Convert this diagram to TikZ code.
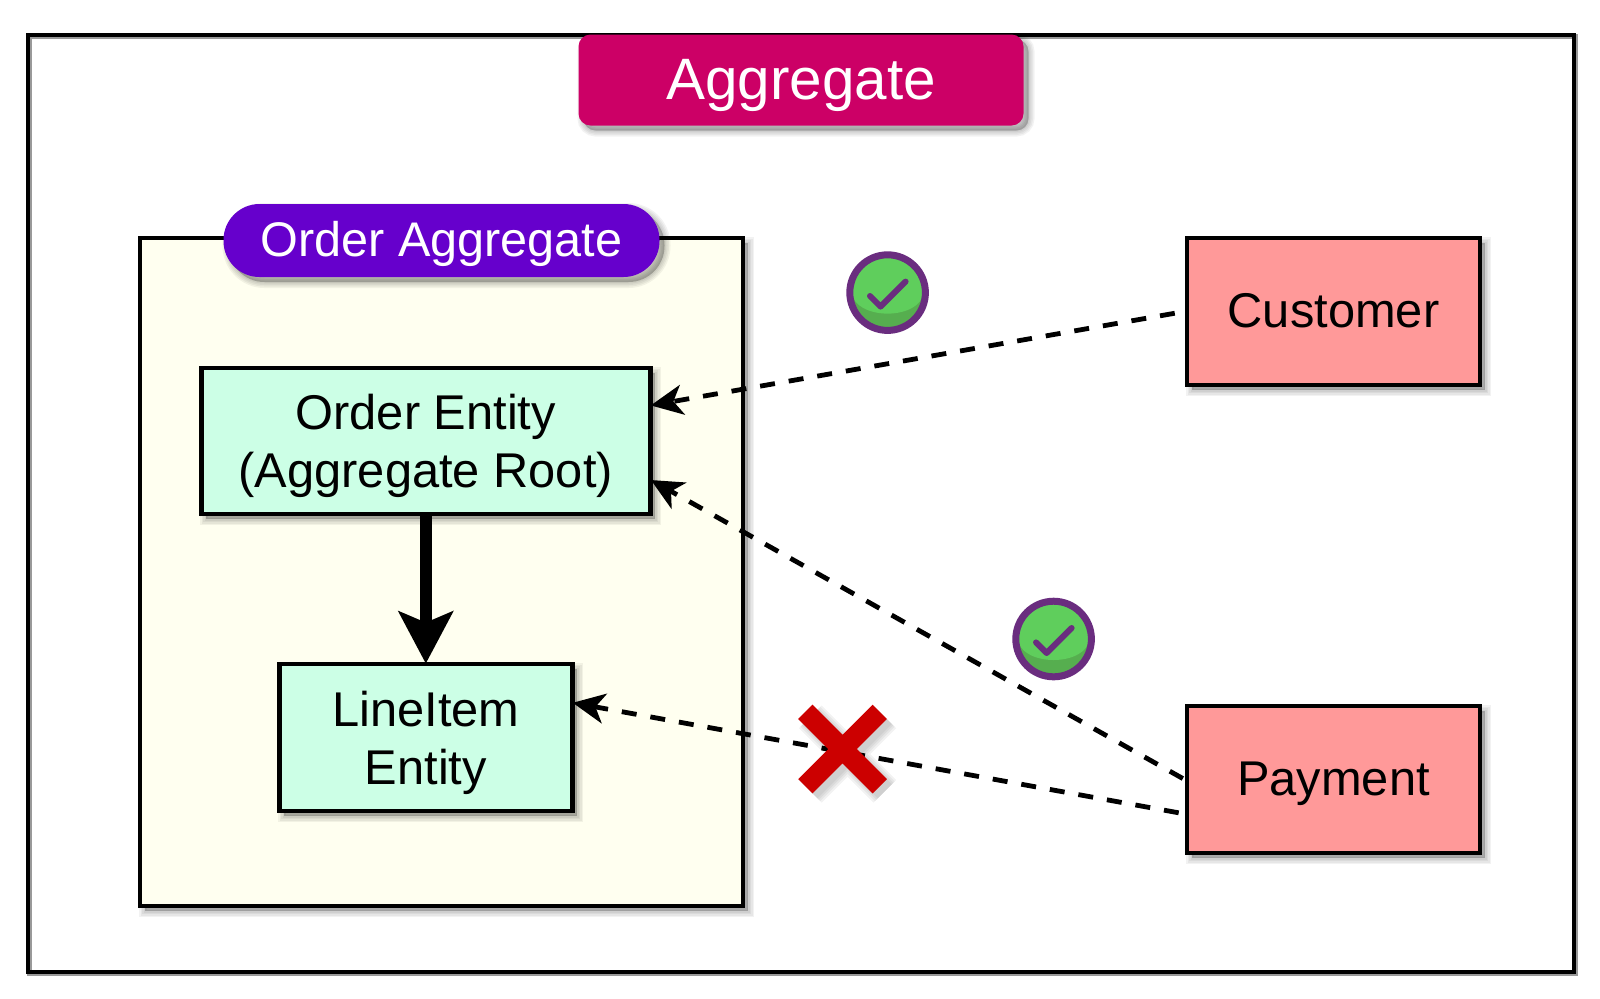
\documentclass[tikz,border=0pt]{standalone}
\usepackage{fontspec}
\setmainfont{Liberation Sans}
\usetikzlibrary{arrows.meta,shadows,shapes.misc}
\definecolor{titleRed}{HTML}{CC0066}
\definecolor{pillViolet}{HTML}{6600CC}
\definecolor{orderCream}{HTML}{FFFFF0}
\definecolor{entityMint}{HTML}{CCFFE6}
\definecolor{outsideRed}{HTML}{FF9999}
\definecolor{crossRed}{HTML}{CC0000}
\definecolor{okGreen}{HTML}{5FCE5C}
\definecolor{okDark}{HTML}{56AE4F}
\definecolor{okPurple}{HTML}{6A2D7F}
\tikzstyle{softshadow} = [
    drop shadow={shadow xshift=2.5pt, shadow yshift=-2.5pt, opacity=.05, fill=black, draw=black, line width=6pt},
    drop shadow={shadow xshift=2.5pt, shadow yshift=-2.5pt, opacity=.05, fill=black, draw=black, line width=4.5pt},
    drop shadow={shadow xshift=2.5pt, shadow yshift=-2.5pt, opacity=.05, fill=black, draw=black, line width=3pt},
    drop shadow={shadow xshift=2.5pt, shadow yshift=-2.5pt, opacity=.05, fill=black, draw=black, line width=1.5pt},
    drop shadow={shadow xshift=2.5pt, shadow yshift=-2.5pt, opacity=.05, fill=black}]
\tikzstyle{block} = [rectangle, draw, line width=2.4pt, softshadow, align=center,
    font=\fontsize{24.4}{29}\selectfont, inner sep=0pt]
\tikzstyle{entity} = [block, fill=entityMint, text height=51.5pt, text depth=5pt]
\tikzstyle{outside} = [block, fill=outsideRed, minimum width=146.5pt, minimum height=73.5pt,
    text height=21pt, text depth=4.9pt]
\tikzstyle{line} = [draw, line width=2.4pt, dash pattern=on 7.5pt off 7pt, shorten >=-1pt,
    -{Stealth[length=16pt,width=15pt,inset=4.5pt]}]
\tikzstyle{okbadge} = [circle, draw=okPurple, line width=3.5pt, fill=okDark, minimum size=37.8pt,
    inner sep=0pt, path picture={
      \fill[okGreen] ([yshift=-.5pt]path picture bounding box.center) ellipse (17.5pt and 10pt);
      \fill[okGreen] ([xshift=-20pt,yshift=-.5pt]path picture bounding box.center) rectangle +(40pt,22pt);
      \draw[okPurple, line width=3pt, line cap=round, line join=round]
        ([xshift=-8.8pt,yshift=-1.7pt]path picture bounding box.center) -- +(5.3pt,-5.3pt) -- +(17.8pt,7.2pt);
    }]
\tikzstyle{crossmark} = [cross out, inner sep=0pt, outer sep=0pt, minimum size=37.2pt]

\begin{document}
\begin{tikzpicture}
  \useasboundingbox (0,0) rectangle (800pt,-499pt);

    % Place nodes
    \node [rectangle, draw, line width=2.4pt, minimum width=773pt, minimum height=468.5pt,
        drop shadow={shadow xshift=.6pt, shadow yshift=-.6pt, opacity=.4, fill=none, draw=black, line width=2.4pt}] (outer) at (400.5pt,-251.75pt) {};
    \node [block, fill=orderCream, minimum width=301.5pt, minimum height=334pt] (orderBox) at (220.75pt,-286pt) {};
    \node [entity, minimum width=224.5pt, minimum height=73pt] (orderEntity) at (212.9pt,-220.5pt) {Order Entity\\(Aggregate Root)};
    \node [entity, below of=orderEntity, node distance=148.25pt, minimum width=146.5pt, minimum height=73.5pt] (lineItem) {LineItem\\Entity};
    \node [outside] (customer) at (666.75pt,-155.75pt) {Customer};
    \node [outside, below of=customer, node distance=234pt] (payment) {Payment};
    \node [rectangle, rounded corners=6pt, fill=titleRed, text=white, softshadow, font=\fontsize{29.2}{34}\selectfont,
        minimum width=222.5pt, minimum height=45.5pt, inner sep=0pt, text height=25pt, text depth=5.7pt] (title) at (400.5pt,-40pt) {Aggregate};
    \node [rectangle, rounded corners=18pt, fill=pillViolet, text=white, softshadow, font=\fontsize{24.3}{29}\selectfont,
        minimum width=218pt, minimum height=36.5pt, inner sep=0pt, text height=21pt, text depth=4.9pt] (orderPill) at (220.75pt,-120.25pt) {Order Aggregate};
    \node [okbadge] (okCustomer) at (443.8pt,-146.3pt) {};
    \node [okbadge] (okPayment) at (526.8pt,-319.5pt) {};

    % Draw edges
    \path [draw, line width=6pt, shorten >=-1pt, -{Stealth[length=26pt,width=27pt,inset=5.5pt]}] (orderEntity) -- (lineItem);
    \path [line, shorten <=5pt] (customer.west) -- (orderEntity.9.8);
    \path [line, shorten <=1pt] (payment.west) -- (orderEntity.-10.6);
    \path [line, shorten <=3pt] (payment.193.4) -- (lineItem.13.6);

    % Soft shadow of the cross, then the cross
    \foreach \w in {16,14,12,10}
      \node [crossmark, draw=black, draw opacity=.05, line width=\w pt] at (423.8pt,-377pt) {};
    \node [crossmark, draw=crossRed, line width=10.15pt] (blocked) at (421.3pt,-374.5pt) {};

\end{tikzpicture}
\end{document}
